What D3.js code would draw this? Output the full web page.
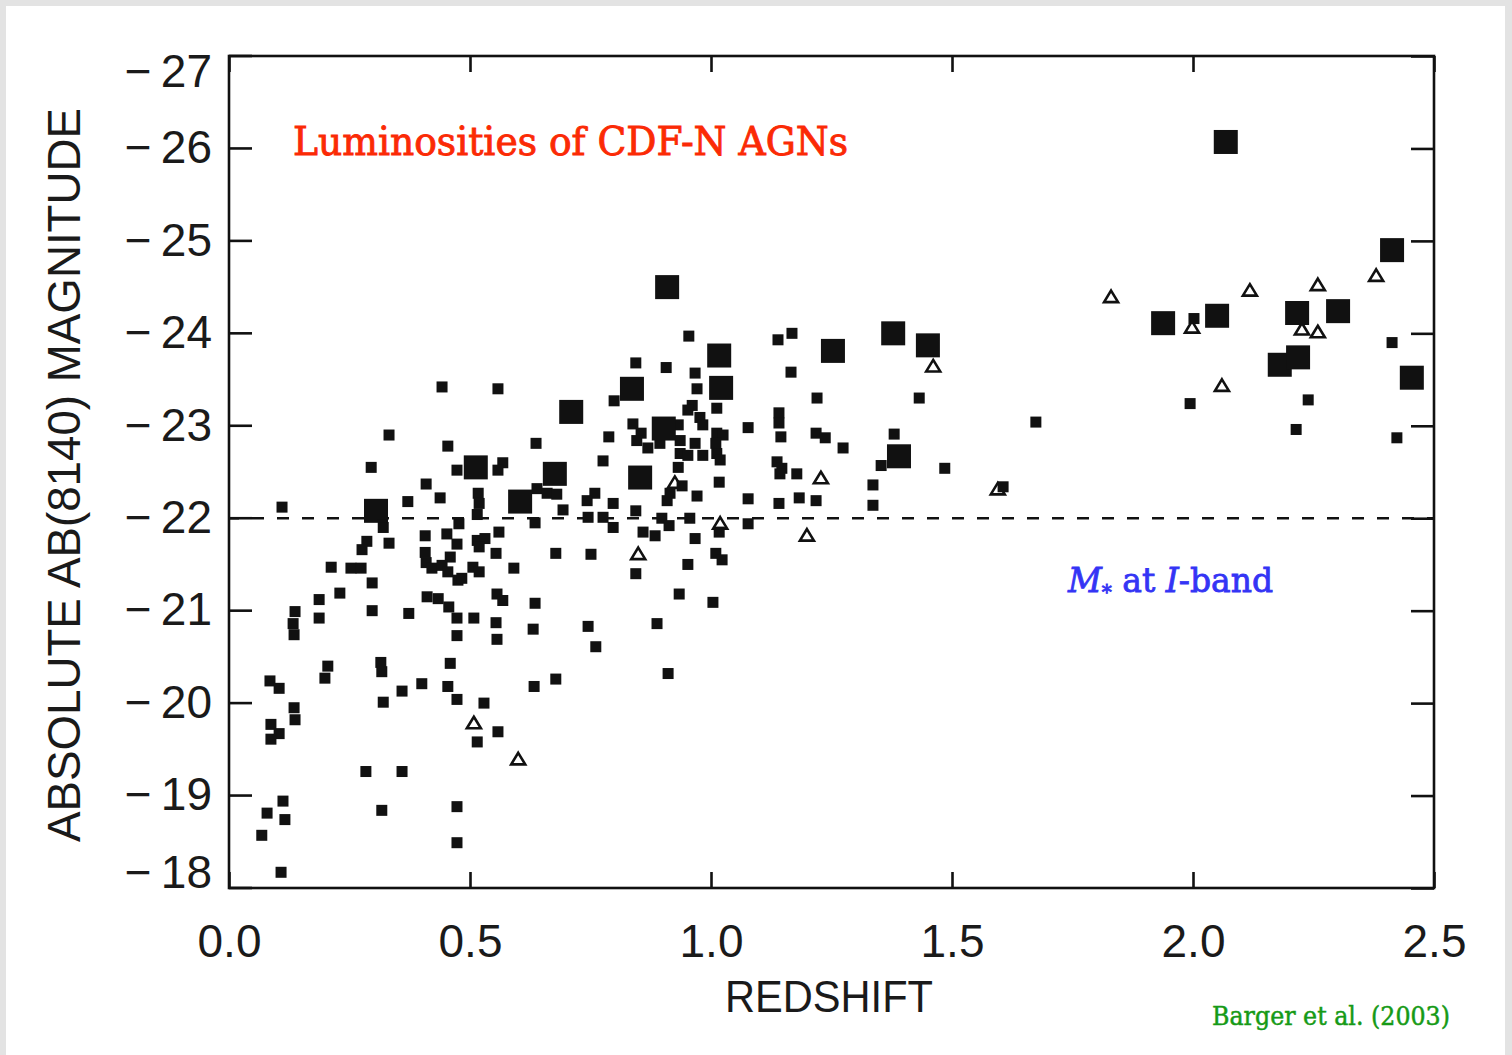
<!DOCTYPE html>
<html>
<head>
<meta charset="utf-8">
<script src="https://cdn.jsdelivr.net/npm/d3@7"></script>
<style>
  html, body { margin: 0; padding: 0; background: #e3e3e3; }
  svg { display: block; }
</style>
</head>
<body>
<svg id="chart" width="1512" height="1055"></svg>
<script>
// AGNs in the CDF-N: redshift vs absolute AB(8140) magnitude
// Ordinary X-ray sources (small filled squares)
const agnSmall = [
  [0.332,-22.90],[0.295,-22.55],[0.110,-22.12],[0.371,-22.18],[0.320,-21.90],[0.286,-21.75],[0.276,-21.66],[0.332,-21.73],
  [0.212,-21.47],[0.253,-21.46],[0.274,-21.46],[0.297,-21.30],[0.230,-21.19],[0.187,-21.12],[0.137,-20.99],[0.297,-21.00],
  [0.187,-20.92],[0.133,-20.86],[0.135,-20.74],[0.373,-20.97],[0.315,-20.44],[0.205,-20.40],[0.199,-20.27],[0.317,-20.34],
  [0.085,-20.24],[0.104,-20.16],[0.359,-20.13],[0.320,-20.01],[0.135,-19.95],[0.137,-19.82],[0.087,-19.77],[0.104,-19.67],
  [0.087,-19.61],[0.284,-19.26],[0.359,-19.26],[0.112,-18.94],[0.079,-18.81],[0.116,-18.74],[0.317,-18.84],[0.068,-18.57],
  [0.108,-18.17],
  [0.442,-23.42],[0.558,-23.40],[0.454,-22.78],[0.637,-22.81],[0.473,-22.52],[0.568,-22.60],[0.558,-22.52],[0.409,-22.37],
  [0.438,-22.22],[0.517,-22.27],[0.519,-22.16],[0.639,-22.32],[0.660,-22.27],[0.680,-22.26],[0.515,-22.04],[0.477,-21.94],
  [0.635,-21.95],[0.407,-21.81],[0.452,-21.83],[0.473,-21.72],[0.515,-21.76],[0.531,-21.78],[0.560,-21.85],[0.519,-21.69],
  [0.407,-21.63],[0.459,-21.58],[0.554,-21.62],[0.678,-21.62],[0.409,-21.52],[0.421,-21.46],[0.442,-21.49],[0.454,-21.42],
  [0.475,-21.33],[0.483,-21.35],[0.506,-21.47],[0.519,-21.42],[0.591,-21.46],[0.411,-21.15],[0.434,-21.13],[0.456,-21.04],
  [0.556,-21.18],[0.568,-21.11],[0.635,-21.08],[0.693,-22.09],
  [0.473,-20.92],[0.508,-20.92],[0.554,-20.87],[0.631,-20.80],[0.473,-20.73],[0.556,-20.69],[0.459,-20.43],[0.400,-20.21],
  [0.454,-20.18],[0.473,-20.04],[0.529,-20.00],[0.633,-20.18],[0.678,-20.26],[0.558,-19.69],[0.515,-19.58],[0.473,-18.88],
  [0.473,-18.49],
  [0.954,-23.97],[0.844,-23.68],[0.907,-23.63],[0.967,-23.57],[0.971,-23.40],[0.799,-23.27],[0.961,-23.22],[0.952,-23.17],
  [1.012,-23.19],[0.977,-23.09],[0.983,-23.01],[0.838,-23.02],[0.855,-22.92],[0.932,-23.01],[0.936,-22.84],[0.894,-22.81],
  [0.788,-22.88],[0.846,-22.84],[0.869,-22.76],[0.967,-22.81],[1.012,-22.92],[1.025,-22.90],[1.010,-22.81],[0.936,-22.70],
  [0.952,-22.68],[0.983,-22.68],[1.012,-22.70],[1.019,-22.63],[0.932,-22.55],[1.077,-22.98],[0.776,-22.62],[0.940,-22.35],
  [1.017,-22.39],[0.971,-22.24],[0.909,-22.19],[0.915,-22.27],[0.759,-22.27],[0.743,-22.19],[0.797,-22.16],[0.844,-22.08],
  [1.077,-22.21],
  [0.745,-22.01],[0.776,-22.01],[0.797,-21.90],[0.859,-21.85],[0.884,-21.81],[0.898,-22.00],[0.913,-21.92],[0.956,-22.00],
  [0.967,-21.78],[1.017,-21.85],[1.077,-21.94],[0.751,-21.61],[0.844,-21.40],[0.952,-21.50],[1.010,-21.62],[1.023,-21.55],
  [0.934,-21.18],[1.004,-21.09],[0.745,-20.83],[0.888,-20.86],[0.761,-20.61],[0.911,-20.32],
  [1.139,-23.93],[1.168,-24.00],[1.166,-23.58],[1.220,-23.30],[1.432,-23.30],[1.141,-23.14],[1.141,-23.03],[1.145,-22.88],
  [1.218,-22.92],[1.237,-22.87],[1.274,-22.76],[1.380,-22.91],[1.353,-22.57],[1.485,-22.54],[1.137,-22.61],[1.147,-22.54],
  [1.143,-22.48],[1.178,-22.48],[1.336,-22.36],[1.141,-22.16],[1.183,-22.22],[1.218,-22.19],[1.336,-22.14],
  [2.002,-24.16],[2.413,-23.90],[1.994,-23.24],[2.239,-23.28],[1.674,-23.04],[2.214,-22.96],[2.423,-22.87],[1.606,-22.34]
];

// Bright sources (large filled squares)
const agnLarge = [
  [0.305,-22.08],[0.512,-22.55],[0.604,-22.18],[0.676,-22.48],[0.710,-23.15],[0.836,-23.40],[0.853,-22.44],[0.902,-22.97],
  [0.909,-24.50],[1.017,-23.76],[1.021,-23.41],[1.253,-23.81],[1.378,-24.00],[1.450,-23.87],[1.390,-22.67],[1.938,-24.11],
  [2.050,-24.19],[2.068,-26.07],[2.216,-24.22],[2.301,-24.24],[2.180,-23.66],[2.218,-23.74],[2.413,-24.90],[2.454,-23.52]
];

// Photometric-redshift sources (open triangles)
const agnTriangle = [
  [0.508,-19.79],[0.600,-19.40],[0.849,-21.62],[0.925,-22.39],[1.019,-21.95],[1.228,-22.44],[1.199,-21.82],[1.461,-23.65],
  [1.595,-22.32],[1.830,-24.40],[1.998,-24.07],[2.060,-23.44],[2.118,-24.47],[2.226,-24.05],[2.259,-24.02],[2.259,-24.53],
  [2.380,-24.63]
];

const xTicks = [0.0, 0.5, 1.0, 1.5, 2.0, 2.5];
const yTicks = [-27, -26, -25, -24, -23, -22, -21, -20, -19, -18];
const mStar = -22;   // M* at I-band

const svg = d3.select("#chart");
const W = 1512, H = 1055;
const plot = { left: 229, top: 56, right: 1434, bottom: 888 };

// white page area inside the grey frame
svg.append("rect").attr("x", 6).attr("y", 6).attr("width", W - 13).attr("height", H - 6).attr("fill", "#fff");

const x = d3.scaleLinear().domain([0, 2.5]).range([plot.left, plot.right]);
const y = d3.scaleLinear().domain([-27, -18]).range([plot.top, plot.bottom]);

const ink = "#111";
const tickFont = "'Liberation Sans', Arial, Helvetica, sans-serif";

// markers
const small = 11, large = 24;
const triPath = (cx, cy) => {
  const w = 14, h = 11.5;
  return `M${cx},${cy - h / 2}L${cx + w / 2},${cy + h / 2}L${cx - w / 2},${cy + h / 2}Z`;
};

const marks = svg.append("g");
marks.selectAll("path.tri").data(agnTriangle).join("path")
  .attr("class", "tri")
  .attr("d", d => triPath(x(d[0]), y(d[1])))
  .attr("fill", "#fff").attr("stroke", ink).attr("stroke-width", 2.6)
  .attr("stroke-linejoin", "miter");

marks.selectAll("rect.sm").data(agnSmall).join("rect")
  .attr("class", "sm")
  .attr("x", d => x(d[0]) - small / 2).attr("y", d => y(d[1]) - small / 2)
  .attr("width", small).attr("height", small).attr("fill", ink);

marks.selectAll("rect.lg").data(agnLarge).join("rect")
  .attr("class", "lg")
  .attr("x", d => x(d[0]) - large / 2).attr("y", d => y(d[1]) - large / 2)
  .attr("width", large).attr("height", large).attr("fill", ink);

// dashed M* line
svg.append("line")
  .attr("x1", plot.left).attr("x2", plot.right)
  .attr("y1", y(mStar)).attr("y2", y(mStar))
  .attr("stroke", ink).attr("stroke-width", 2.4).attr("stroke-dasharray", "12,13")
  .attr("stroke-dashoffset", -23);

// frame
svg.append("rect")
  .attr("x", plot.left).attr("y", plot.top)
  .attr("width", plot.right - plot.left).attr("height", plot.bottom - plot.top)
  .attr("fill", "none").attr("stroke", ink).attr("stroke-width", 2.6);

function styleAxis(g) {
  g.select(".domain").remove();
  g.selectAll(".tick line").attr("stroke", ink).attr("stroke-width", 2.6);
  g.selectAll(".tick text").attr("fill", "#1a1a1a").attr("font-family", tickFont).attr("font-size", 46);
}

// left axis with labels; the end labels sit just inside the frame corners
const fmtY = d => "\u2212\u2009" + Math.abs(d);
const clampY = v => Math.min(Math.max(y(v), plot.top + 16), plot.bottom - 15);
const gl = svg.append("g").attr("transform", `translate(${plot.left},0)`)
  .call(d3.axisLeft(y).tickValues(yTicks).tickFormat(fmtY).tickSizeInner(-23).tickSizeOuter(0).tickPadding(17))
  .call(styleAxis);
gl.selectAll(".tick").attr("transform", d => `translate(0,${clampY(d)})`);
gl.selectAll(".tick line").attr("transform", d => `translate(0,${y(d) - clampY(d)})`);

svg.append("g").attr("transform", `translate(${plot.right},0)`)
  .call(d3.axisRight(y).tickValues(yTicks).tickFormat("").tickSizeInner(-23).tickSizeOuter(0))
  .call(styleAxis);

svg.append("g").attr("transform", `translate(0,${plot.bottom})`)
  .call(d3.axisBottom(x).tickValues(xTicks).tickFormat(d3.format(".1f")).tickSizeInner(-16).tickSizeOuter(0).tickPadding(36))
  .call(styleAxis);

svg.append("g").attr("transform", `translate(0,${plot.top})`)
  .call(d3.axisTop(x).tickValues(xTicks).tickFormat("").tickSizeInner(-16).tickSizeOuter(0))
  .call(styleAxis);

// axis titles
svg.append("text")
  .attr("x", 829).attr("y", 1012)
  .attr("text-anchor", "middle")
  .attr("font-family", tickFont).attr("font-size", 44).attr("fill", "#1a1a1a")
  .attr("textLength", 208).attr("lengthAdjust", "spacingAndGlyphs")
  .text("REDSHIFT");

svg.append("text")
  .attr("transform", "translate(80,475) rotate(-90)")
  .attr("text-anchor", "middle")
  .attr("font-family", tickFont).attr("font-size", 46).attr("fill", "#1a1a1a")
  .attr("textLength", 734).attr("lengthAdjust", "spacingAndGlyphs")
  .text("ABSOLUTE AB(8140) MAGNITUDE");

// annotations
const serif = "'DejaVu Serif', 'Liberation Serif', serif";
svg.append("text")
  .attr("x", 293).attr("y", 155)
  .attr("font-family", serif).attr("font-size", 40).attr("fill", "#fb2a05")
  .attr("stroke", "#fb2a05").attr("stroke-width", 0.9)
  .attr("textLength", 555).attr("lengthAdjust", "spacingAndGlyphs")
  .text("Luminosities of CDF-N AGNs");

const ms = svg.append("text")
  .attr("x", 1068).attr("y", 592)
  .attr("font-family", serif).attr("font-size", 33).attr("fill", "#3434f5")
  .attr("stroke", "#3434f5").attr("stroke-width", 0.8);
ms.append("tspan").attr("font-style", "italic").text("M");
ms.append("tspan").attr("font-size", 20).attr("dy", 7).text("*");
ms.append("tspan").attr("dy", -7).text(" at ");
ms.append("tspan").attr("font-style", "italic").text("I");
ms.append("tspan").text("-band");

svg.append("text")
  .attr("x", 1212).attr("y", 1025)
  .attr("font-family", serif).attr("font-size", 26).attr("fill", "#169a16")
  .attr("stroke", "#169a16").attr("stroke-width", 0.5)
  .attr("textLength", 238).attr("lengthAdjust", "spacingAndGlyphs")
  .text("Barger et al. (2003)");
</script>
</body>
</html>
